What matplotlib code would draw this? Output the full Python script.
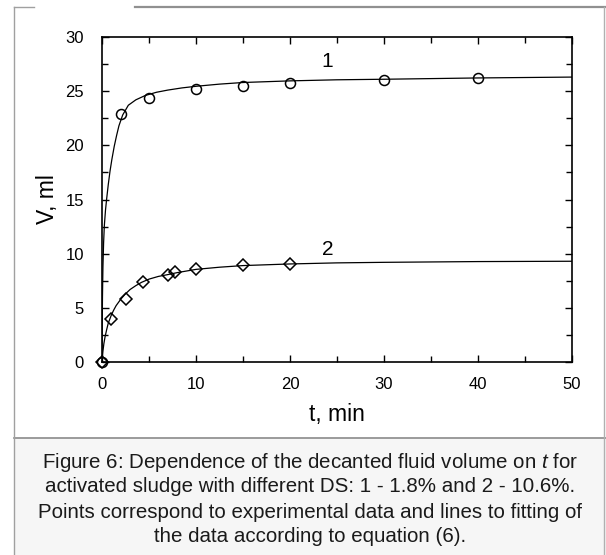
import matplotlib
matplotlib.use("Agg")
import matplotlib.pyplot as plt
from matplotlib.lines import Line2D

plt.rcParams["font.family"] = ["Liberation Sans", "DejaVu Sans"]
plt.rcParams["mathtext.fontset"] = "custom"
plt.rcParams["mathtext.it"] = "Liberation Sans:italic"
plt.rcParams["mathtext.rm"] = "Liberation Sans"

# experimental points, curve 1 (DS 1.8%)
t1 = [0, 2, 5, 10, 15, 20, 30, 40]
v1 = [0, 22.9, 24.4, 25.2, 25.5, 25.8, 26.0, 26.2]

# experimental points, curve 2 (DS 10.6%)
t2 = [0, 1, 2.5, 4.4, 7, 7.8, 10, 15, 20]
v2 = [0, 4.0, 5.8, 7.35, 8.0, 8.35, 8.6, 9.0, 9.05]

# fitted lines
fit1_t = [0, 0.02, 0.05, 0.1, 0.17, 0.25, 0.37, 0.5, 0.67, 0.85, 1.05, 1.3, 1.55,
          1.8, 2.2, 2.8, 3.6, 4.6, 5.8, 7, 8.5, 10, 12.5, 15, 20, 25, 30, 40, 50]
fit1_v = [0, 3.0, 6.0, 8.8, 11.0, 12.6, 14.0, 15.1, 16.4, 17.6, 18.7, 19.9, 20.9,
          21.8, 22.8, 23.7, 24.2, 24.6, 24.9, 25.1, 25.3, 25.45, 25.65, 25.8, 25.95,
          26.05, 26.1, 26.22, 26.3]
fit2_t = [0, 0.1, 0.2, 0.32, 0.5, 0.67, 0.85, 1.0, 1.25, 1.5, 2.0, 2.45, 3.0, 3.6,
          4.2, 5.0, 6.0, 6.9, 8.0, 10, 12.5, 15, 20, 25, 30, 40, 50]
fit2_v = [0, 1.0, 1.7, 2.3, 3.0, 3.6, 4.0, 4.35, 4.8, 5.2, 5.8, 6.25, 6.7, 7.05,
          7.35, 7.65, 7.9, 8.05, 8.25, 8.55, 8.75, 8.9, 9.05, 9.15, 9.2, 9.27, 9.3]

caption = [
    "Figure 6: Dependence of the decanted fluid volume on $t$ for",
    "activated sludge with different DS: 1 - 1.8% and 2 - 10.6%.",
    "Points correspond to experimental data and lines to fitting of",
    "the data according to equation (6).",
]

W, H = 606, 555
fig = plt.figure(figsize=(W / 100, H / 100), dpi=100)
fig.patch.set_facecolor("white")

# caption panel background and scanned frame lines
fig.patches.append(plt.Rectangle((14 / W, 0), 1 - 14 / W, 1 - 438 / H,
                                 transform=fig.transFigure, facecolor="#f6f6f6",
                                 edgecolor="none", zorder=0))
fig.lines.append(Line2D([14 / W, 1], [1 - 438 / H] * 2, transform=fig.transFigure,
                        color="#8a8a8a", lw=1.2))
fig.lines.append(Line2D([14 / W, 14 / W], [0, 1 - 7 / H], transform=fig.transFigure,
                        color="#a0a0a0", lw=1.0))
fig.lines.append(Line2D([14 / W, 34 / W], [1 - 7 / H] * 2, transform=fig.transFigure,
                        color="#a0a0a0", lw=1.0))
fig.lines.append(Line2D([135 / W, 1], [1 - 7 / H] * 2, transform=fig.transFigure,
                        color="#909090", lw=1.6))
fig.lines.append(Line2D([604 / W, 604 / W], [0, 1 - 7 / H], transform=fig.transFigure,
                        color="#b0b0b0", lw=1.0))

ax = fig.add_axes([102 / W, 1 - 362 / H, 470 / W, 325 / H])
ax.set_facecolor("white")

ax.plot(fit1_t, fit1_v, color="black", lw=0.9)
ax.plot(fit2_t, fit2_v, color="black", lw=0.9)
ax.plot(t1, v1, "o", ms=7.2, mfc="none", mec="black", mew=1.1, clip_on=False)
ax.plot(t2, v2, "D", ms=6.6, mfc="none", mec="black", mew=1.1, clip_on=False)

ax.text(24, 27.7, "1", fontsize=15, ha="center", va="center")
ax.text(24, 10.4, "2", fontsize=15, ha="center", va="center")

ax.set_xlim(0, 50)
ax.set_ylim(0, 30)
ax.set_xticks([0, 10, 20, 30, 40, 50])
ax.set_xticks([5, 15, 25, 35, 45], minor=True)
ax.set_yticks([0, 5, 10, 15, 20, 25, 30])
ax.set_yticks([2.5, 7.5, 12.5, 17.5, 22.5, 27.5], minor=True)
ax.tick_params(which="both", direction="in", top=True, right=True, width=1.0,
               labelsize=12, colors="black")
ax.tick_params(axis="x", which="both", pad=11)
ax.tick_params(axis="y", which="both", pad=13)
ax.tick_params(which="major", length=5)
ax.tick_params(which="minor", length=4)
for s in ax.spines.values():
    s.set_linewidth(1.2)

ax.set_xlabel("t, min", fontsize=16.5)
ax.xaxis.set_label_coords(0.5, -0.125)
ax.set_ylabel("V, ml", fontsize=16.5)
ax.yaxis.set_label_coords(-0.092, 0.5)

y0 = 462
for i, line in enumerate(caption):
    fig.text(310 / W, 1 - (y0 + 25 * i) / H, line, fontsize=14.8, ha="center",
             va="center", color="#1a1a1a")

fig.savefig("out.png", dpi=100)
